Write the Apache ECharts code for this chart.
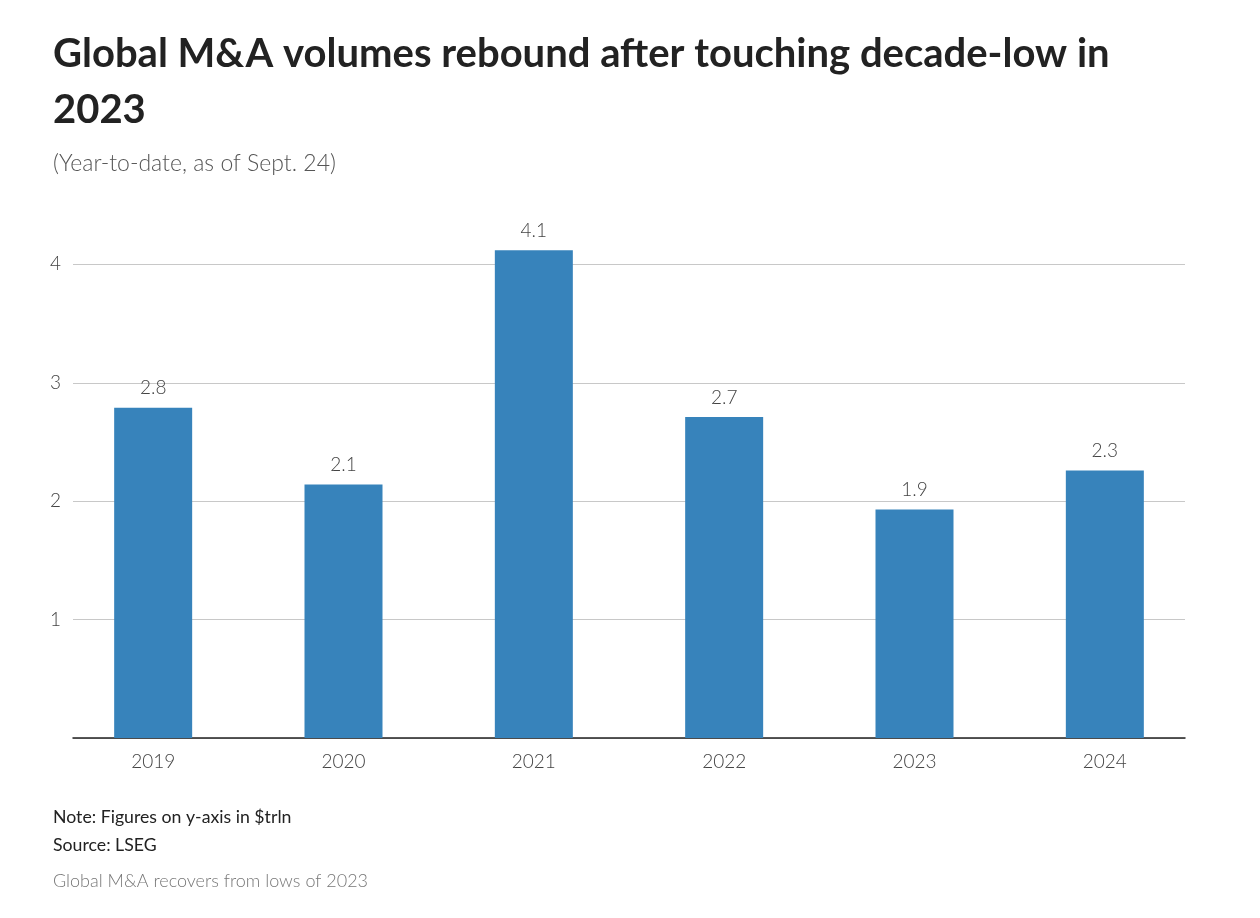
<!DOCTYPE html>
<html>
<head>
<meta charset="utf-8">
<script src="https://cdn.jsdelivr.net/npm/echarts@6/dist/echarts.min.js"></script>
<style>
  html, body { margin: 0; padding: 0; background: #fff; }
  #chart { width: 1260px; height: 918px; }
</style>
</head>
<body>
<div id="chart"></div>
<script>
// Datos (billones de USD, acumulado anual)
const years  = ['2019', '2020', '2021', '2022', '2023', '2024']
const values = [2.79, 2.14, 4.12, 2.71, 1.93, 2.26]
const yTicks = [1, 2, 3, 4]

const FONT = 'Lato, "Open Sans", sans-serif'
const AXIS_MAX = 4.4

const chart = echarts.init(document.getElementById('chart'))

chart.setOption({
  animation: false,
  textStyle: { fontFamily: FONT },
  title: [
    {
      text: 'Global M&A volumes rebound after touching decade-low in\n2023',
      left: 53, top: 26, padding: 0,
      textStyle: { fontSize: 40, fontWeight: 'bold', color: '#222', lineHeight: 56, fontFamily: FONT },
    },
    {
      text: '(Year-to-date, as of Sept. 24)',
      left: 53, top: 152, padding: 0,
      textStyle: { fontSize: 23, fontWeight: 300, color: '#555', fontFamily: FONT },
    },
    {
      text: 'Note: Figures on y-axis in $trln\nSource: LSEG',
      left: 53, top: 803, padding: 0,
      textStyle: { fontSize: 17.7, fontWeight: 'normal', color: '#222', lineHeight: 28, fontFamily: FONT },
    },
    {
      text: 'Global M&A recovers from lows of 2023',
      left: 53, top: 872, padding: 0,
      textStyle: { fontSize: 18, fontWeight: 300, color: '#777', fontFamily: FONT },
    },
  ],
  grid: [
    // barras
    { left: 58, right: 60, top: 217, bottom: 180 },
    // líneas de referencia y eje
    { left: 73, right: 75, top: 217, bottom: 180 },
  ],
  xAxis: [
    {
      type: 'category', gridIndex: 0, data: years,
      axisLine: { show: false }, axisTick: { show: false },
      axisLabel: { fontSize: 19, color: '#444', fontWeight: 300, margin: 14 },
    },
    {
      type: 'value', gridIndex: 1, min: 0, max: 1,
      axisLine: { show: true, onZero: false, lineStyle: { color: '#222', width: 1.5 } },
      axisTick: { show: false }, axisLabel: { show: false }, splitLine: { show: false },
    },
  ],
  yAxis: [
    {
      type: 'value', gridIndex: 0, min: 0, max: AXIS_MAX,
      show: false, splitLine: { show: false },
    },
    {
      type: 'value', gridIndex: 1, min: 0, max: AXIS_MAX, interval: 1,
      axisLine: { show: false }, axisTick: { show: false },
      axisLabel: {
        fontSize: 19, color: '#444', fontWeight: 300, margin: 12,
        formatter: v => (yTicks.includes(v) ? String(v) : ''),
      },
      splitLine: {
        show: true, showMaxLine: false,
        lineStyle: { color: '#c8c8c8', width: 1.2 },
      },
    },
  ],
  series: [
    {
      type: 'bar',
      xAxisIndex: 0, yAxisIndex: 0,
      data: values,
      barWidth: 78,
      itemStyle: { color: '#3783bb' },
      label: {
        show: true, position: 'top', distance: 10,
        fontSize: 19, color: '#444', fontWeight: 300,
        formatter: p => p.value.toFixed(1),
      },
    },
  ],
})
</script>
</body>
</html>
